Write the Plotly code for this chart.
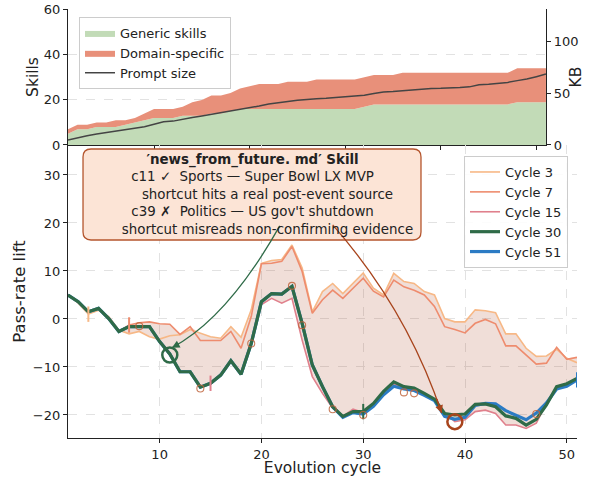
import numpy as np
import plotly.graph_objects as go

# ---------------- data ----------------
cycles = list(range(1, 52))

# top panel: skill library size
generic_skills = [5, 7, 7, 8, 8, 8, 9, 10, 11, 12, 12, 12, 13, 13, 13, 14, 14, 15, 16, 16,
                  16, 16, 16, 16, 16, 16, 16, 16, 16, 16, 16, 17, 18, 18, 18, 18, 18, 18, 18, 18,
                  18, 18, 18, 18, 18, 18, 18, 19, 19, 19, 19]
domain_skills = [2, 2, 2, 2, 2, 3, 2, 2, 3, 4, 4, 4, 4, 6, 7, 8, 8, 8, 9, 10,
                 11, 11, 11, 12, 12, 12, 13, 13, 13, 13, 13, 13, 13, 13, 13, 14, 14, 14, 14, 14,
                 14, 14, 14, 14, 14, 14, 14, 15, 15, 15, 15]
prompt_kb = [4.8, 7.2, 9.0, 10.5, 12.0, 13.5, 15.0, 16.3, 17.6, 20.0,
             22.4, 23.0, 25.0, 26.5, 28.0, 29.6, 30.8, 32.1, 34.0, 36.0,
             37.5, 39.5, 41.0, 42.0, 43.0, 44.0, 44.6, 45.0, 45.6, 46.3,
             47.0, 48.0, 49.5, 51.0, 51.5, 52.3, 53.0, 53.8, 54.5, 54.6,
             54.8, 55.3, 56.0, 58.0, 58.4, 59.2, 60.3, 62.0, 63.5, 65.8, 68.3]

# bottom panel: pass-rate lift of skill snapshots
lift_c3 = [5.0, 3.3, 1.0, 1.8, 0.5, -2.3, -3.1, -2.6, -3.7, -4.2,
           -3.5, -3.3, -2.2, -3.0, -3.7, -4.0, -1.6, -3.8, 1.9, 11.6,
           12.2, 12.4, 15.4, 10.6, 1.5, 5.7, 7.4, 5.3, 7.4, 9.6,
           6.4, 5.0, 9.5, 7.8, 7.4, 5.7, 5.0, 0.1, -0.6, -0.6,
           1.9, 1.7, 1.3, -3.1, -3.1, -6.1, -7.8, -7.7, -6.3, -8.2, -9.1]
lift_c7 = [5.0, 3.6, 1.5, 2.2, 0.1, -2.6, -1.25, -0.8, -0.6, -1.0,
           -1.1, -3.2, -1.6, -4.5, -4.5, -4.5, -2.6, -6.1, 0.5, 11.5,
           11.6, 12.0, 15.1, 9.9, 1.2, 4.0, 6.0, 4.3, 6.4, 8.5,
           5.8, 4.6, 8.1, 6.7, 6.0, 5.0, 2.6, -1.6, -2.2, -2.9,
           -0.9, -0.1, -1.0, -5.6, -5.6, -7.5, -9.4, -9.2, -5.9, -8.4, -8.0]
lift_c15 = [5.0, 3.6, 1.5, 2.2, 0.1, -2.6, -1.6, -1.6, -1.6, -4.7,
            -7.3, -11.0, -11.0, -14.2, -13.4, -11.7, -8.7, -11.5, -5.1, 3.0,
            4.3, 3.3, 4.3, -4.4, -12.0, -15.5, -18.6, -20.3, -18.8, -19.5,
            -18.0, -15.5, -13.5, -14.5, -15.0, -15.5, -17.0, -19.5, -21.4, -21.0,
            -19.3, -19.0, -19.7, -22.1, -22.1, -22.8, -21.7, -17.6, -14.5, -13.8, -12.6]
lift_c30 = [5.0, 3.6, 1.5, 2.2, 0.1, -2.6, -1.6, -1.6, -1.6, -4.7,
            -7.3, -11.0, -11.0, -14.2, -13.4, -11.7, -8.7, -11.5, -5.1, 3.6,
            5.3, 5.2, 6.8, -0.9, -9.6, -14.1, -18.3, -20.3, -19.3, -19.3,
            -17.6, -15.1, -13.1, -14.1, -14.4, -15.5, -16.7, -19.7, -20.0, -19.8,
            -17.8, -17.7, -18.3, -20.2, -20.7, -22.1, -20.9, -17.9, -14.1, -13.5, -12.4]
lift_c51 = [5.0, 3.6, 1.5, 2.2, 0.1, -2.6, -1.6, -1.6, -1.6, -4.7,
            -7.3, -11.0, -11.0, -14.2, -13.4, -11.7, -8.7, -11.5, -5.1, 3.6,
            5.3, 5.2, 6.8, -0.9, -9.6, -14.1, -18.3, -20.5, -19.5, -19.8,
            -18.2, -15.8, -14.0, -14.6, -14.9, -15.9, -17.0, -20.3, -20.9, -20.5,
            -18.0, -17.6, -17.7, -19.1, -20.0, -21.0, -19.6, -17.5, -14.6, -14.0, -12.7]

snapshot_labels = ["Cycle 3", "Cycle 7", "Cycle 15", "Cycle 30", "Cycle 51"]
snapshot_cycles = [3, 7, 15, 30, 51]

event_cycles = [8, 14, 19, 23, 24, 27, 30, 34, 35, 47]
event_values = [-1.5, -14.5, -5.1, 6.9, -1.3, -18.8, -20.0, -15.3, -15.5, -19.8]

highlight_cycles = [11, 39]
highlight_values = [-7.5, -21.4]

box_lines = [
    "<b>\u2032news_from_future. md\u2032 Skill</b>",
    "c11 \u2713\u00a0\u00a0Sports \u2014 Super Bowl LX MVP",
    "\u00a0" * 7 + "shortcut hits a real post-event source",
    "c39 \u2717\u00a0\u00a0Politics \u2014 US gov't shutdown",
    "\u00a0" * 7 + "shortcut misreads non-confirming evidence",
]

# ---------------- styles ----------------
FONT = "DejaVu Sans"
INK = "#222222"
GRID = "#e2e2e2"
snap_style = {
    "Cycle 3": dict(color="#f7b886", width=1.6),
    "Cycle 7": dict(color="#ee8c6e", width=1.6),
    "Cycle 15": dict(color="#e0808c", width=1.6),
    "Cycle 30": dict(color="#2f6b48", width=3.2),
    "Cycle 51": dict(color="#2b7bc4", width=3.2),
}
GREEN_ARROW = "#2f6b48"
BROWN_ARROW = "#a8441c"

lifts = dict(zip(snapshot_labels, [lift_c3, lift_c7, lift_c15, lift_c30, lift_c51]))

fig = go.Figure()

# ---- top panel ----
fig.add_trace(go.Scatter(x=cycles, y=generic_skills, name="Generic skills", stackgroup="skills",
                         mode="lines", line=dict(width=0), fillcolor="#c2dbb7", legend="legend"))
fig.add_trace(go.Scatter(x=cycles, y=domain_skills, name="Domain-specific", stackgroup="skills",
                         mode="lines", line=dict(width=0), fillcolor="#e8907a", legend="legend"))
fig.add_trace(go.Scatter(x=cycles, y=prompt_kb, name="Prompt size", yaxis="y2",
                         mode="lines", line=dict(color="#444444", width=1.5), legend="legend"))

# ---- bottom panel ----
arr = np.array(list(lifts.values()))
fig.add_trace(go.Scatter(x=cycles, y=arr.min(axis=0), xaxis="x2", yaxis="y3", mode="lines",
                         line=dict(width=0), showlegend=False, hoverinfo="skip"))
fig.add_trace(go.Scatter(x=cycles, y=arr.max(axis=0), xaxis="x2", yaxis="y3", mode="lines",
                         line=dict(width=0), fill="tonexty", fillcolor="rgba(180,90,60,0.2)",
                         showlegend=False, hoverinfo="skip"))

draw_order = ["Cycle 3", "Cycle 7", "Cycle 15", "Cycle 51", "Cycle 30"]
for lab in draw_order:
    fig.add_trace(go.Scatter(x=cycles, y=lifts[lab], xaxis="x2", yaxis="y3", mode="lines",
                             name=lab, line=snap_style[lab], legend="legend2",
                             legendrank=snapshot_labels.index(lab) + 1))

# snapshot tick marks
for lab, c in zip(snapshot_labels, snapshot_cycles):
    col = snap_style[lab]["color"]
    fig.add_trace(go.Scatter(x=[c], y=[lifts[lab][c - 1]], xaxis="x2", yaxis="y3", mode="markers",
                             marker=dict(symbol="line-ns", size=11, color=col,
                                         line=dict(color=col, width=2)),
                             showlegend=False, hoverinfo="skip"))

# small event circles
fig.add_trace(go.Scatter(x=event_cycles, y=event_values, xaxis="x2", yaxis="y3", mode="markers",
                         marker=dict(symbol="circle-open", size=7, color="rgba(192,100,60,0.85)",
                                     line=dict(width=1.1)),
                         showlegend=False, hoverinfo="skip"))

# highlighted cycles
fig.add_trace(go.Scatter(x=highlight_cycles, y=highlight_values, xaxis="x2", yaxis="y3",
                         mode="markers",
                         marker=dict(symbol="circle-open", size=15, color=[GREEN_ARROW, BROWN_ARROW],
                                     line=dict(width=2.5)),
                         showlegend=False, hoverinfo="skip"))

# ---------------- annotation box + curved arrows ----------------
bx0, bx1, by0, by1 = 0.0295, 0.6935, 0.4615, 0.6737
rx, ry = 0.0157, 0.0186
box_path = (f"M {bx0 + rx},{by0} L {bx1 - rx},{by0} Q {bx1},{by0} {bx1},{by0 + ry} "
            f"L {bx1},{by1 - ry} Q {bx1},{by1} {bx1 - rx},{by1} L {bx0 + rx},{by1} "
            f"Q {bx0},{by1} {bx0},{by1 - ry} L {bx0},{by0 + ry} Q {bx0},{by0} {bx0 + rx},{by0} Z")
shapes = [dict(type="path", xref="paper", yref="paper", path=box_path, layer="above",
               fillcolor="#fce4d6", line=dict(color="#b5562e", width=1.3))]

arrows = [
    # (start, control, end, colour)
    ((21.8, 19.4), (16.7, 0.2), (11.2, -6.0), GREEN_ARROW),
    ((27.0, 19.6), (34.3, 2.0), (37.7, -19.6), BROWN_ARROW),
]
annotations = []
for (sx, sy), (cx, cy), (ex, ey), col in arrows:
    shapes.append(dict(type="path", xref="x2", yref="y3", layer="above",
                       path=f"M {sx},{sy} Q {cx},{cy} {ex},{ey}",
                       line=dict(color=col, width=1.3)))
    annotations.append(dict(x=ex, y=ey, xref="x2", yref="y3", axref="x2", ayref="y3",
                            ax=ex - 0.15 * (ex - cx), ay=ey - 0.15 * (ey - cy), text="",
                            showarrow=True, arrowhead=2, arrowsize=1.2, arrowwidth=1.3,
                            arrowcolor=col))

annotations.append(dict(x=(bx0 + bx1) / 2, y=(by0 + by1) / 2, xref="paper", yref="paper",
                        xanchor="center", yanchor="middle", align="center", showarrow=False,
                        text="<br>".join(box_lines), font=dict(family=FONT, size=13.4, color=INK)))

# right-hand axis label of the top panel
annotations.append(dict(x=0.999, y=0.8415, xref="paper", yref="paper", text="KB", textangle=-90,
                        showarrow=False, xanchor="center", yanchor="middle",
                        font=dict(family=FONT, size=15.5, color=INK)))

# ---------------- layout ----------------
axis_common = dict(showline=True, linecolor=INK, linewidth=1.2, ticks="outside", ticklen=4,
                   tickwidth=1.2, tickcolor=INK, tickfont=dict(size=13, color=INK),
                   zeroline=False, mirror=False, automargin=False)

fig.update_layout(
    width=591, height=477,
    margin=dict(l=68, r=14, t=9, b=39),
    paper_bgcolor="white", plot_bgcolor="white",
    font=dict(family=FONT, size=13, color=INK),
    xaxis=dict(domain=[0, 0.939], anchor="y", range=[1, 51], tickvals=[10, 20, 30, 40, 50],
               showticklabels=False, showgrid=False, **axis_common),
    yaxis=dict(domain=[0.683, 1], anchor="x", range=[0, 60.3], tickvals=[0, 20, 40, 60],
               showgrid=True, gridcolor=GRID, griddash="dash", gridwidth=0.8,
               title=dict(text="Skills", font=dict(size=15.5), standoff=1), **axis_common),
    yaxis2=dict(overlaying="y", anchor="x", side="right", range=[0, 131], tickvals=[0, 50, 100],
                showgrid=False, **axis_common),
    xaxis2=dict(domain=[0, 1], anchor="y3", range=[1, 51], tickvals=[10, 20, 30, 40, 50],
                showgrid=True, gridcolor=GRID, griddash="dash", gridwidth=0.8,
                title=dict(text="Evolution cycle", font=dict(size=15.5), standoff=5),
                **axis_common),
    yaxis3=dict(domain=[0, 0.683], anchor="x2", range=[-24.8, 36.25],
                tickvals=[-20, -10, 0, 10, 20, 30],
                showgrid=True, gridcolor=GRID, griddash="dash", gridwidth=0.8,
                title=dict(text="Pass-rate lift", font=dict(size=16.5), standoff=3),
                **axis_common),
    legend=dict(x=0.0216, y=0.9814, xanchor="left", yanchor="top", bgcolor="rgba(255,255,255,0.85)",
                bordercolor="#cccccc", borderwidth=1, font=dict(size=13, color=INK),
                traceorder="normal"),
    legend2=dict(x=0.778, y=0.6573, xanchor="left", yanchor="top", bgcolor="rgba(255,255,255,0.9)",
                 bordercolor="#cccccc", borderwidth=1, font=dict(size=13, color=INK),
                 traceorder="normal"),
    shapes=shapes,
    annotations=annotations,
)

fig.write_html("out.html", config={"displayModeBar": False},
               post_script="document.body.style.margin='0';")
